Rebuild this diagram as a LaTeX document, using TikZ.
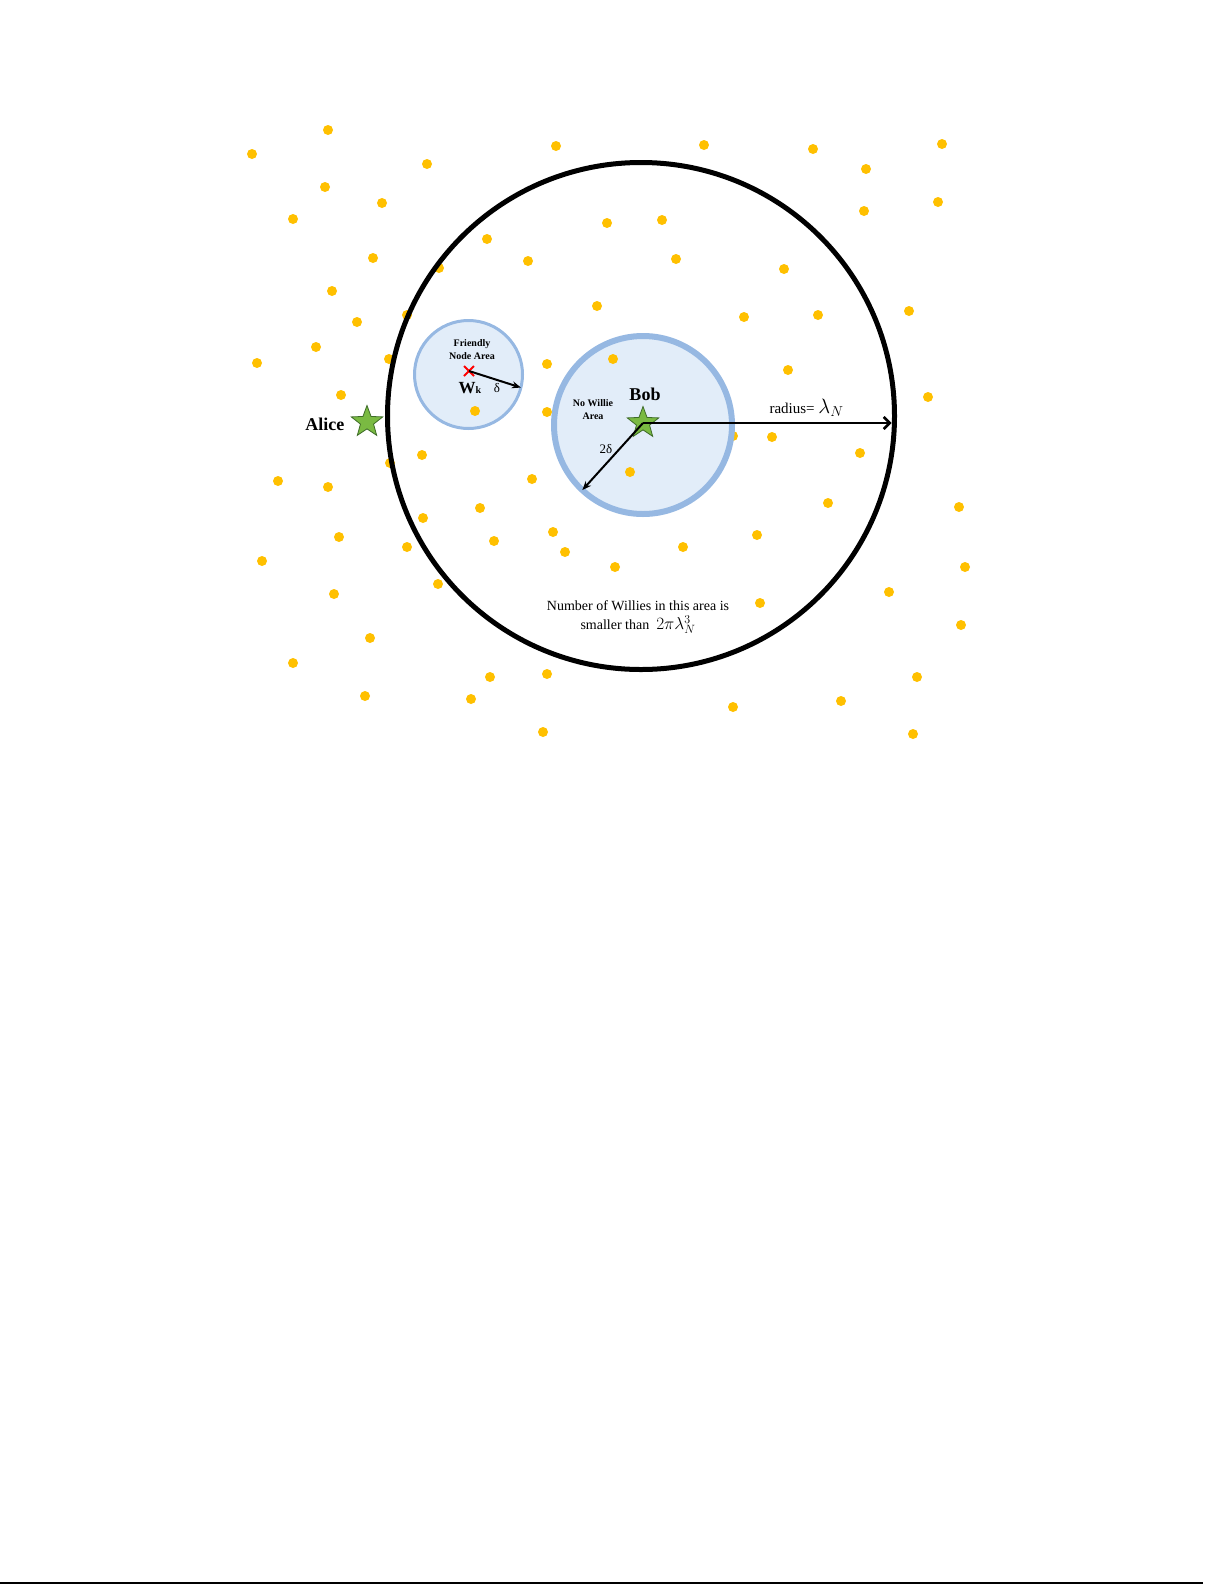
\documentclass[tikz,border=0pt]{standalone}
\usepackage{fontspec}
\setmainfont{Liberation Serif}
\usetikzlibrary{shapes.geometric, shapes.misc, arrows.meta, positioning}

\definecolor{dotgold}{RGB}{255,192,0}
\definecolor{areablue}{RGB}{226,237,249}
\definecolor{ringblue}{RGB}{150,184,226}
\definecolor{stargreen}{RGB}{122,186,66}
\definecolor{stargreendark}{RGB}{62,108,40}

\tikzset{
  willie/.style={circle, fill=dotgold, inner sep=0pt, minimum size=10pt},
  area/.style={circle, draw=ringblue, fill=areablue, inner sep=0pt, outer sep=0pt},
  user/.style={star, star points=5, star point ratio=2.4, draw=stargreendark, fill=stargreen,
               line width=0.8pt, inner sep=0pt, minimum size=33pt},
  radiusarrow/.style={line width=2pt, -{Stealth[length=9pt, width=7pt]}},
  smallbold/.style={font=\fontsize{10}{13}\selectfont\bfseries, align=center},
  username/.style={font=\fontsize{18}{18}\selectfont\bfseries}
}

\begin{document}
\begin{tikzpicture}[x=1pt, y=-1pt]
  \useasboundingbox (0,0) rectangle (1225,1585);

  % hidden under the ring
  \node[willie] (w0) at (733,436) {};

  % protected areas
  \node[area, line width=6pt, minimum size=178pt] (nowillie) at (643,425) {};
  \node[area, line width=3pt, minimum size=108pt] (friendly) at (468.5,374.5) {};

  % willies
  \foreach \x/\y [count=\i] in {252/154, 328/130, 427/164, 556/146, 704/145, 813/149, 866/169, 942/144,
      325/187, 382/203, 293/219, 607/223, 662/220, 864/211, 938/202,
      487/239, 528/261, 676/259, 373/258, 439/268, 784/269,
      332/291, 597/306, 357/322, 407/315, 744/317, 818/315, 909/311,
      316/347, 257/363, 389/359, 547/364, 613/359, 788/370,
      341/395, 928/397, 475/411, 547/412, 772/437,
      422/455, 390/463, 278/481, 328/487, 532/479, 630/472, 860/453,
      480/508, 423/518, 553/532, 494/541, 565/552, 339/537, 407/547, 828/503, 959/507,
      757/535, 683/547, 615/567, 965/567,
      262/561, 438/584, 334/594, 889/592, 760/603, 961/625,
      370/638, 293/663, 490/677, 547/674, 917/677,
      365/696, 471/699, 841/701, 733/707, 543/732, 913/734}
    \node[willie] (w\i) at (\x,\y) {};

  % coverage of bob
  \node[circle, draw, line width=5pt, minimum size=507pt, inner sep=0pt, outer sep=0pt] (cover) at (641,416) {};

  % alice and bob
  \node[user] (bob)   at (643,423) {};
  \node[user] (alice) at (367,422) {};
  \node[cross out, draw=red, line width=2pt, minimum size=8pt, inner sep=0pt] (wk) at (469,371) {};

  \draw[line width=2.5pt, -{Straight Barb[length=6pt, width=12pt]}, shorten >=3pt]
    (bob.center) -- (bob.center -| cover.east);
  \draw[radiusarrow] (bob.center) -- (nowillie.227);
  \draw[radiusarrow] (wk.center) -- (friendly.-14);

  % labels
  \node[smallbold] (friendlylabel) at (472,350) {Friendly\\Node Area};
  \node[font=\fontsize{17}{17}\selectfont\bfseries] (wklabel) at (470,388) {W{\fontsize{10}{10}\selectfont k}};
  \node[font=\fontsize{13}{13}\selectfont] (deltalabel) at (497,388) {δ};
  \node[smallbold] (nowillielabel) at (593,410) {No Willie\\Area};
  \node[username] (boblabel) at (645,394) {Bob};
  \node[username, anchor=east] (alicelabel) at (348,424) {Alice};
  \node[font=\fontsize{13}{13}\selectfont] (twodelta) at (606,449) {2δ};
  \node[font=\fontsize{15}{15}\selectfont, anchor=base west] (radiuslabel) at (766,413)
    {radius= {\fontsize{22}{22}\selectfont$\lambda_N$}};
  \node[font=\fontsize{14}{19}\selectfont, align=center] (countlabel) at (638,617)
    {Number of Willies in this area is\\smaller than\enspace{\fontsize{18}{19}\selectfont$2\pi\lambda_N^3$}};

  % page edge
  \coordinate (edgeL) at (0,1583);
  \coordinate (edgeR) at (1203,1583);
  \draw[line width=2pt] (edgeL) -- (edgeR);
\end{tikzpicture}
\end{document}
